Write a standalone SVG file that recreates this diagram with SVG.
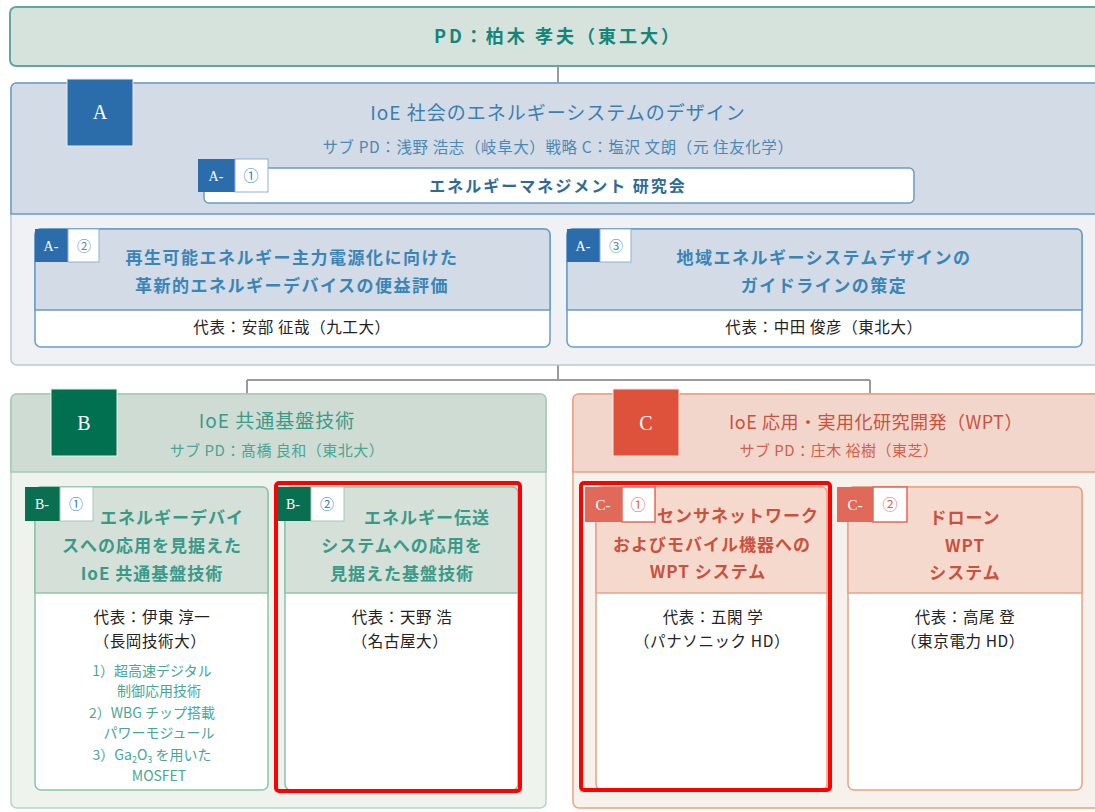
<svg xmlns="http://www.w3.org/2000/svg" width="1095" height="812" viewBox="0 0 1095 812">
<style>
.jp{font-family:"Noto Sans CJK JP","Noto Sans",sans-serif;text-anchor:middle}
.ser{font-family:"Liberation Serif",serif;fill:#fff}
.dark{fill:#222;font-size:15.5px;letter-spacing:0.6px}
.at{fill:#3a85b5;font-size:17px;font-weight:bold;letter-spacing:1.5px}
.bt{fill:#3a9a88;font-size:17px;font-weight:bold;letter-spacing:1px}
.ct{fill:#c9523d;font-size:17px;font-weight:bold;letter-spacing:1px}
.bl{fill:#4aa596;font-size:14px}
.conn{stroke:#9a9a9a;stroke-width:2;fill:none}
.hl{fill:none;stroke:#ff0000;stroke-width:4}
</style>
<rect width="1095" height="812" fill="#ffffff"/>

<g id="connectors">
<path class="conn" d="M558,66 V83"/>
<path class="conn" d="M558,365 V380 M247,380 H870 M247,380 V394 M870,380 V394"/>
</g>

<g id="pd">
<rect x="10" y="7" width="1100" height="59" rx="6" fill="#d6e3dc" stroke="#5fa8a0" stroke-width="2"/>
<text class="jp" x="558" y="43" font-size="18" font-weight="bold" fill="#14857a" letter-spacing="3">PD：柏木 孝夫（東工大）</text>
</g>

<g id="A">
<rect x="11" y="83" width="1100" height="282" rx="6" fill="#eff1f4" stroke="#b9c7d6" stroke-width="1.5"/>
<path d="M11,214 V89 Q11,83 17,83 H1111 V214 Z" fill="#d3dbe6" stroke="#6b9cc4" stroke-width="1.5"/>
<rect x="67" y="79" width="66" height="67" fill="#2b6cab" stroke="#e8eef5" stroke-width="1"/>
<text class="ser" x="100" y="119" font-size="20" text-anchor="middle">A</text>
<text class="jp" x="558" y="120" font-size="19" fill="#3a7fb0" letter-spacing="1">IoE 社会のエネルギーシステムのデザイン</text>
<text class="jp" x="558" y="153" font-size="15.5" fill="#4a88b5" letter-spacing="0.6">サブ PD：浅野 浩志（岐阜大）戦略 C：塩沢 文朗（元 住友化学）</text>
</g>

<g id="A1">
<rect x="204" y="168" width="710" height="35" rx="5" fill="#ffffff" stroke="#6b9cc4" stroke-width="1.5"/>
<rect x="198" y="159" width="37" height="33" fill="#2b6cab"/>
<rect x="235" y="159" width="33" height="33" fill="#ffffff" stroke="#8fb0d0" stroke-width="1"/>
<text class="ser" x="216" y="181" font-size="14" text-anchor="middle">A-</text>
<text class="jp" x="251" y="181" font-size="15" fill="#3a7fc0">①</text>
<text class="jp" x="558" y="192" font-size="16" font-weight="bold" fill="#2f6a94" letter-spacing="2">エネルギーマネジメント 研究会</text>
</g>

<g id="A2">
<rect x="35" y="229" width="515" height="118" rx="6" fill="#ffffff" stroke="#6b9cc4" stroke-width="1.5"/>
<path d="M35,310 V235 Q35,229 41,229 H544 Q550,229 550,235 V310 Z" fill="#d3dbe6" stroke="#6b9cc4" stroke-width="1.5"/>
<rect x="35" y="229" width="33" height="33" fill="#2b6cab"/>
<rect x="68" y="229" width="31" height="33" fill="#ffffff" stroke="#8fb0d0" stroke-width="1"/>
<text class="ser" x="51" y="251" font-size="14" text-anchor="middle">A-</text>
<text class="jp" x="84" y="251" font-size="14" fill="#5a8ec0">②</text>
<text class="jp at" x="292" y="264">再生可能エネルギー主力電源化に向けた</text>
<text class="jp at" x="292" y="292">革新的エネルギーデバイスの便益評価</text>
<text class="jp dark" x="292" y="333">代表：安部 征哉（九工大）</text>
</g>

<g id="A3">
<rect x="567" y="229" width="515" height="118" rx="6" fill="#ffffff" stroke="#6b9cc4" stroke-width="1.5"/>
<path d="M567,310 V235 Q567,229 573,229 H1076 Q1082,229 1082,235 V310 Z" fill="#d3dbe6" stroke="#6b9cc4" stroke-width="1.5"/>
<rect x="567" y="229" width="33" height="33" fill="#2b6cab"/>
<rect x="600" y="229" width="31" height="33" fill="#ffffff" stroke="#8fb0d0" stroke-width="1"/>
<text class="ser" x="583" y="251" font-size="14" text-anchor="middle">A-</text>
<text class="jp" x="616" y="251" font-size="14" fill="#5a8ec0">③</text>
<text class="jp at" x="824" y="264">地域エネルギーシステムデザインの</text>
<text class="jp at" x="824" y="292">ガイドラインの策定</text>
<text class="jp dark" x="824" y="333">代表：中田 俊彦（東北大）</text>
</g>

<g id="B">
<rect x="11" y="394" width="535" height="414" rx="6" fill="#eef3ee" stroke="#b5d3c3" stroke-width="1.5"/>
<path d="M11,472 V400 Q11,394 17,394 H540 Q546,394 546,400 V472 Z" fill="#cfdcd3" stroke="#a5c9b6" stroke-width="1.5"/>
<rect x="51" y="389" width="66" height="67" fill="#007050" stroke="#e6efe9" stroke-width="1"/>
<text class="ser" x="84" y="430" font-size="20" text-anchor="middle">B</text>
<text class="jp" x="277" y="428" font-size="19" fill="#3a9a88" letter-spacing="1">IoE 共通基盤技術</text>
<text class="jp" x="277" y="456" font-size="15" fill="#4aa596" letter-spacing="0.5">サブ PD：髙橋 良和（東北大）</text>
</g>

<g id="B1">
<rect x="35" y="487" width="233" height="303" rx="6" fill="#ffffff" stroke="#8fc3a8" stroke-width="1.5"/>
<path d="M35,593 V493 Q35,487 41,487 H262 Q268,487 268,493 V593 Z" fill="#d5e0d9" stroke="#8fc3a8" stroke-width="1.5"/>
<rect x="25" y="487" width="35" height="34" fill="#0a6e50"/>
<rect x="60" y="487" width="33" height="34" fill="#ffffff" stroke="#a5c9b6" stroke-width="1"/>
<text class="ser" x="42" y="509" font-size="14" text-anchor="middle">B-</text>
<text class="jp" x="76" y="509" font-size="14" fill="#3a7fc0">①</text>
<text class="jp bt" x="172" y="524">エネルギーデバイ</text>
<text class="jp bt" x="152" y="552">スへの応用を見据えた</text>
<text class="jp bt" x="152" y="580">IoE 共通基盤技術</text>
<text class="jp dark" x="152" y="623">代表：伊東 淳一</text>
<text class="jp dark" x="150" y="647">（長岡技術大）</text>
<text class="jp bl" x="152" y="676">1）超高速デジタル</text>
<text class="jp bl" x="159" y="696">制御応用技術</text>
<text class="jp bl" x="152" y="718">2）WBG チップ搭載</text>
<text class="jp bl" x="159" y="738">パワーモジュール</text>
<text class="jp bl" x="152" y="760">3）Ga<tspan font-size="9" dy="3">2</tspan><tspan dy="-3">O</tspan><tspan font-size="9" dy="3">3</tspan><tspan dy="-3"> を用いた</tspan></text>
<text class="jp bl" x="159" y="781">MOSFET</text>
</g>

<g id="B2">
<rect x="285" y="487" width="233" height="303" rx="6" fill="#ffffff" stroke="#8fc3a8" stroke-width="1.5"/>
<path d="M285,593 V493 Q285,487 291,487 H512 Q518,487 518,493 V593 Z" fill="#d5e0d9" stroke="#8fc3a8" stroke-width="1.5"/>
<rect x="275" y="487" width="36" height="34" fill="#0a6e50"/>
<rect x="311" y="487" width="33" height="34" fill="#ffffff" stroke="#a5c9b6" stroke-width="1"/>
<text class="ser" x="293" y="509" font-size="14" text-anchor="middle">B-</text>
<text class="jp" x="327" y="509" font-size="14" fill="#3a7fc0">②</text>
<text class="jp bt" x="427" y="524">エネルギー伝送</text>
<text class="jp bt" x="402" y="552">システムへの応用を</text>
<text class="jp bt" x="402" y="580">見据えた基盤技術</text>
<text class="jp dark" x="402" y="623">代表：天野 浩</text>
<text class="jp dark" x="400" y="647">（名古屋大）</text>
<rect class="hl" x="276" y="483" width="244" height="308" rx="3"/>
</g>

<g id="C">
<rect x="573" y="394" width="540" height="414" rx="6" fill="#f7f1eb" stroke="#e5a488" stroke-width="1.5"/>
<path d="M573,472 V400 Q573,394 579,394 H1113 V472 Z" fill="#f2d6cb" stroke="#e5a488" stroke-width="1.5"/>
<rect x="613" y="389" width="66" height="67" fill="#de513b" stroke="#f7e6df" stroke-width="1"/>
<text class="ser" x="646" y="430" font-size="20" text-anchor="middle">C</text>
<text class="jp" x="876" y="429" font-size="18" fill="#c9523d" letter-spacing="0.5">IoE 応用・実用化研究開発（WPT）</text>
<text class="jp" x="839" y="456" font-size="15" fill="#d0604b" letter-spacing="0.5">サブ PD：庄木 裕樹（東芝）</text>
</g>

<g id="C1">
<rect x="596" y="487" width="231" height="303" rx="6" fill="#ffffff" stroke="#e5a488" stroke-width="1.5"/>
<path d="M596,593 V493 Q596,487 602,487 H821 Q827,487 827,493 V593 Z" fill="#f5d9cd" stroke="#e5a488" stroke-width="1.5"/>
<rect x="585" y="487" width="37" height="35" fill="#e0695a"/>
<rect x="622" y="487" width="33" height="35" fill="#ffffff" stroke="#e0695a" stroke-width="1.5"/>
<text class="ser" x="603" y="510" font-size="15" text-anchor="middle">C-</text>
<text class="jp" x="638" y="510" font-size="15" fill="#e06655">①</text>
<text class="jp ct" x="738" y="522">センサネットワーク</text>
<text class="jp ct" x="712" y="551">およびモバイル機器への</text>
<text class="jp ct" x="708" y="578">WPT システム</text>
<text class="jp dark" x="713" y="623">代表：五閑 学</text>
<text class="jp dark" x="712" y="647">（パナソニック HD）</text>
<rect class="hl" x="581" y="483" width="249" height="307" rx="3"/>
</g>

<g id="C2">
<rect x="848" y="487" width="234" height="303" rx="6" fill="#ffffff" stroke="#e5a488" stroke-width="1.5"/>
<path d="M848,593 V493 Q848,487 854,487 H1076 Q1082,487 1082,493 V593 Z" fill="#f5d9cd" stroke="#e5a488" stroke-width="1.5"/>
<rect x="837" y="487" width="36" height="35" fill="#e0695a"/>
<rect x="873" y="487" width="34" height="35" fill="#ffffff" stroke="#e0695a" stroke-width="1.5"/>
<text class="ser" x="855" y="510" font-size="15" text-anchor="middle">C-</text>
<text class="jp" x="890" y="510" font-size="15" fill="#e06655">②</text>
<text class="jp ct" x="965" y="524">ドローン</text>
<text class="jp ct" x="965" y="552">WPT</text>
<text class="jp ct" x="965" y="579">システム</text>
<text class="jp dark" x="965" y="623">代表：高尾 登</text>
<text class="jp dark" x="963" y="647">（東京電力 HD）</text>
</g>
</svg>
